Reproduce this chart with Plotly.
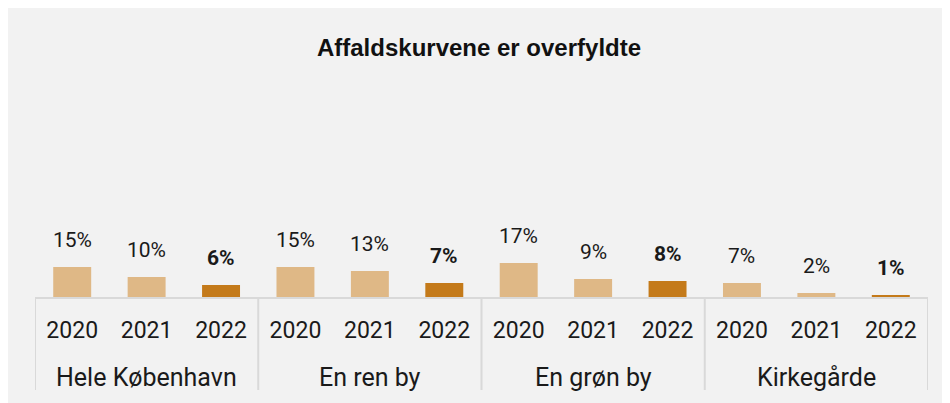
import plotly.graph_objects as go

title = "Affaldskurvene er overfyldte"
groups = ["Hele København", "En ren by", "En grøn by", "Kirkegårde"]
years = ["2020", "2021", "2022"]
values = [
    [15, 10, 6],
    [15, 13, 7],
    [17, 9, 8],
    [7, 2, 1],
]
light = "#dfb886"
dark = "#c47a1a"
line_col = "#d9d9d9"

xi, yv, cols, texts, ticktext = [], [], [], [], []
i = 0
for g, vals in zip(groups, values):
    for yr, v in zip(years, vals):
        xi.append(i)
        yv.append(v)
        cols.append(dark if yr == "2022" else light)
        texts.append(f"<b>{v}%</b>" if yr == "2022" else f"{v}%")
        ticktext.append(yr)
        i += 1

n_per = len(years)
fig = go.Figure()
fig.add_trace(go.Bar(
    x=xi, y=yv, marker=dict(color=cols, line=dict(width=0)),
    hoverinfo="skip", showlegend=False,
))
for x, v, t in zip(xi, yv, texts):
    fig.add_annotation(x=x, y=v, text=t, showarrow=False, yanchor="bottom",
                       yshift=13, font=dict(size=21, color="#1a1a1a", family="Roboto"))

# group labels and dividers
for gi, g in enumerate(groups):
    center = gi * n_per + (n_per - 1) / 2
    fig.add_annotation(x=center, y=0, yref="y", text=g, showarrow=False,
                       yanchor="middle", yshift=-80,
                       font=dict(size=25, color="#1a1a1a", family="Roboto"))
for gi in range(len(groups) + 1):
    xb = gi * n_per - 0.5
    fig.add_shape(type="line", x0=xb, x1=xb, xref="x", y0=0, y1=-0.465, yref="paper",
                  line=dict(color=line_col, width=2))

fig.update_layout(
    width=942, height=395,
    margin=dict(l=27, r=22, t=89, b=106),
    paper_bgcolor="#f2f2f2", plot_bgcolor="#f2f2f2",
    bargap=0.49,
    title=dict(text=f"<b>{title}</b>", x=0.5, xanchor="center", y=1 - 40 / 395, yanchor="middle",
               font=dict(size=24, color="#111111", family="Liberation Sans")),
    font=dict(family="Roboto", color="#1a1a1a"),
)
fig.update_xaxes(
    range=[-0.5, len(xi) - 0.5], tickvals=xi, ticktext=ticktext,
    showline=True, linecolor=line_col, linewidth=2,
    tickfont=dict(size=23, color="#1a1a1a"), ticks="", showgrid=False, zeroline=False,
    ticklabelstandoff=11,
)
fig.update_yaxes(range=[0, 100], visible=False, showgrid=False, zeroline=False)

fig.write_html("out.html")
